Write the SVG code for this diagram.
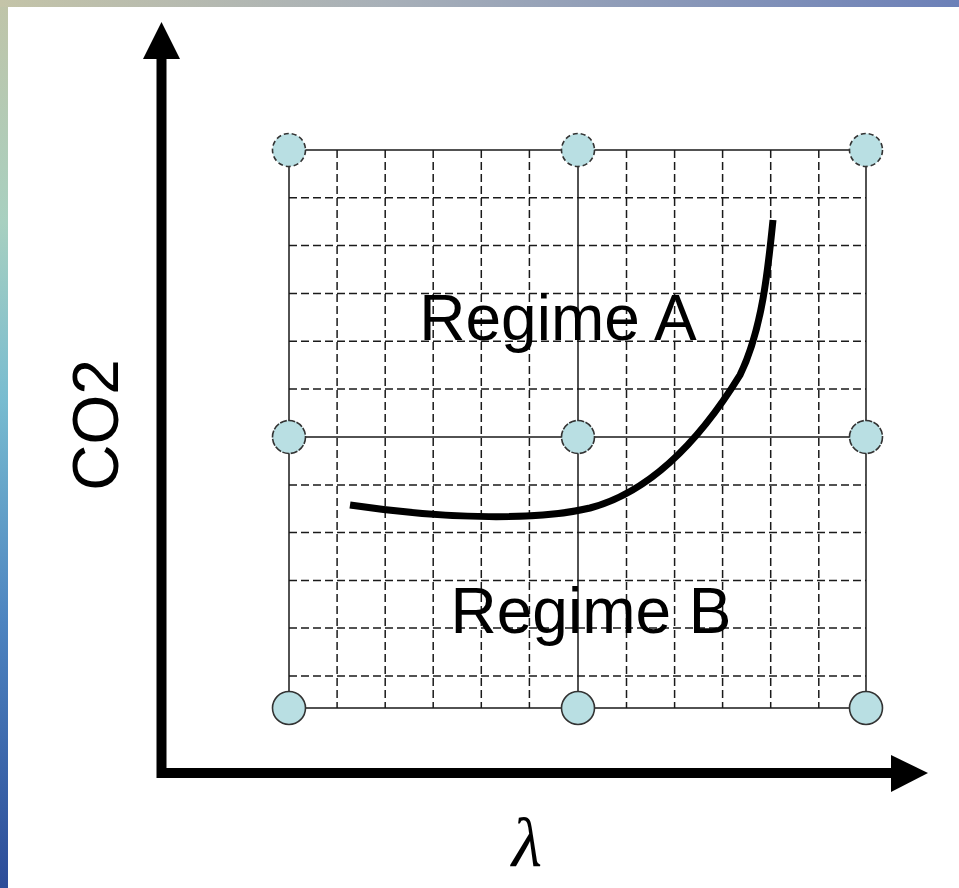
<svg xmlns="http://www.w3.org/2000/svg" width="959" height="888" viewBox="0 0 959 888">
  <defs>
    <linearGradient id="leftBand" x1="0" y1="0" x2="0" y2="1">
      <stop offset="0" stop-color="#c0c4a8"/>
      <stop offset="0.25" stop-color="#a8d0c0"/>
      <stop offset="0.45" stop-color="#78bcd0"/>
      <stop offset="0.7" stop-color="#4d84c0"/>
      <stop offset="1" stop-color="#2c4c98"/>
    </linearGradient>
    <linearGradient id="topBand" x1="0" y1="0" x2="1" y2="0">
      <stop offset="0" stop-color="#c4c4a8"/>
      <stop offset="0.4" stop-color="#a8b0b8"/>
      <stop offset="1" stop-color="#6c80b8"/>
    </linearGradient>
    <style>
      .solid { stroke: #1a1a1a; stroke-width: 1.5; fill: none; }
      .dash { stroke: #1a1a1a; stroke-width: 1.5; fill: none; stroke-dasharray: 8 4; }
      .node circle { fill: #b9dfe3; stroke: #333; stroke-width: 1.6; }
      .node.top circle { stroke-dasharray: 5 3; }
      .node.mid circle { stroke-dasharray: 7 1.5; }
      .lbl { font-family: "Liberation Sans", Arial, sans-serif; font-size: 64px; fill: #000; }
    </style>
  </defs>

  <rect x="0" y="0" width="959" height="888" fill="url(#leftBand)"/>
  <rect x="0" y="0" width="959" height="7" fill="url(#topBand)"/>
  <rect x="8" y="7" width="951" height="881" fill="#ffffff"/>

  <g id="grid">
    <g class="dash">
      <path d="M337.1,150V708 M385.2,150V708 M433.2,150V708 M481.3,150V708 M529.4,150V708 M626.5,150V708 M674.6,150V708 M722.6,150V708 M770.7,150V708 M818.8,150V708"/>
      <path d="M289,197.8H866 M289,245.6H866 M289,293.4H866 M289,341.2H866 M289,389H866 M289,485H866 M289,532.6H866 M289,580.4H866 M289,628H866 M289,676H866"/>
    </g>
    <g class="solid">
      <path d="M289,150V708 M578,150V708 M866,150V708 M289,150H866 M289,437H866 M289,708H866"/>
    </g>
  </g>

  <g id="connectors">
    <path id="axes" d="M161.5,58V773H892" fill="none" stroke="#000" stroke-width="10" stroke-linejoin="miter"/>
    <polygon points="161.5,22 143,59 180,59" fill="#000"/>
    <polygon points="928,773 891,755 891,792" fill="#000"/>
    <path id="boundary" d="M350,505 C450,520 540,520 590,508 C650,492 700,440 740,375 C762,330 768,270 773,220" fill="none" stroke="#000" stroke-width="7"/>
  </g>

  <g id="n-top-left" class="node top"><circle cx="289" cy="150" r="16.5"/></g>
  <g id="n-top-mid" class="node top"><circle cx="578" cy="150" r="16.5"/></g>
  <g id="n-top-right" class="node top"><circle cx="866" cy="150" r="16.5"/></g>
  <g id="n-mid-left" class="node mid"><circle cx="289" cy="437" r="16.5"/></g>
  <g id="n-mid-mid" class="node mid"><circle cx="578" cy="437" r="16.5"/></g>
  <g id="n-mid-right" class="node mid"><circle cx="866" cy="437" r="16.5"/></g>
  <g id="n-bot-left" class="node"><circle cx="289" cy="708" r="16.5"/></g>
  <g id="n-bot-mid" class="node"><circle cx="578" cy="708" r="16.5"/></g>
  <g id="n-bot-right" class="node"><circle cx="866" cy="708" r="16.5"/></g>

  <g id="labels">
    <text class="lbl" x="558" y="340" text-anchor="middle">Regime A</text>
    <text class="lbl" x="591" y="633" text-anchor="middle">Regime B</text>
    <text class="lbl" text-anchor="middle" transform="translate(118,425) rotate(-90)">CO2</text>
    <text x="527" y="866" text-anchor="middle" font-family="'Liberation Serif', 'Times New Roman', serif" font-style="italic" font-size="70" fill="#000">λ</text>
  </g>
</svg>
